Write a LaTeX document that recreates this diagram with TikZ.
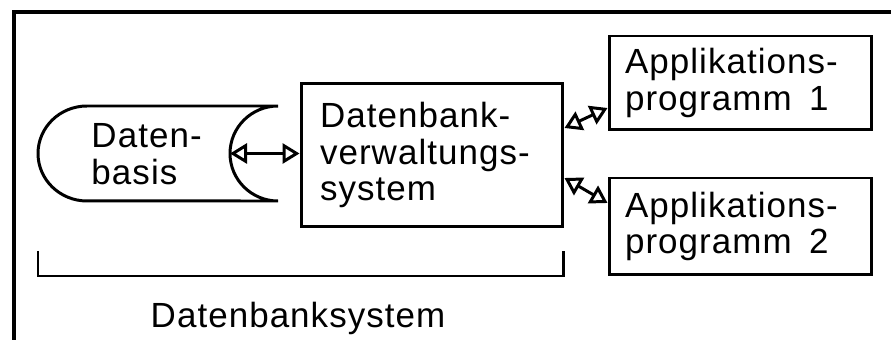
\documentclass[tikz,border=0pt]{standalone}
\usepackage{fontspec}
\setmainfont[LetterSpace=3]{Liberation Sans}
\usetikzlibrary{arrows.meta}

\begin{document}
\begin{tikzpicture}[x=0.02cm, y=-0.02cm, line width=1.7pt,
    every node/.style={font=\fontsize{19.9}{21}\selectfont},
    box/.style={rectangle, draw, align=left, inner ysep=0pt},
    link/.style={{Triangle[open,length=0.34cm,width=0.4cm]}-{Triangle[open,length=0.34cm,width=0.4cm]}}]
    \useasboundingbox (0,0) rectangle (891,340);
    % Rahmen
    \draw[line width=2pt] (14,340) -- (14,12) -- (891,12);

    % Datenbasis
    \node (db) [align=left, anchor=west, inner xsep=0pt] at (90,154) {Daten-\\basis};
    \draw (278,106) -- (87,106) arc[start angle=90, end angle=270, x radius=0.98cm, y radius=0.95cm]
        -- (278,201) arc[start angle=270, end angle=90, x radius=0.96cm, y radius=0.95cm];
    \coordinate (dbin) at (230,153.5);

    % DBVS
    \node (dbms) [box, text width=4.48cm, inner xsep=0.38cm, minimum height=2.88cm] at (432,155) {Datenbank-\\verwaltungs-\\system};
    \draw[link] (dbin) -- (dbms.west |- dbin);

    % Applikationen
    \node (app1) [box, text width=4.62cm, inner xsep=0.32cm, minimum height=1.88cm] at (740.5,83) {Applikations-\\programm\enspace 1};
    \node (app2) [box, text width=4.62cm, inner xsep=0.32cm, minimum height=1.94cm] at (740.5,226.5) {Applikations-\\programm\enspace 2};
    \draw[link] ([yshift=0.54cm]dbms.east) -- ([yshift=-0.5cm]app1.west);
    \draw[link] ([yshift=-0.46cm]dbms.east) -- ([yshift=0.47cm]app2.west);

    % Datenbanksystem
    \draw (38,251) -- (38,276) -- (563,276) -- (563,251);
    \node (dbs) [anchor=base] at (298,328) {Datenbanksystem};
\end{tikzpicture}
\end{document}
